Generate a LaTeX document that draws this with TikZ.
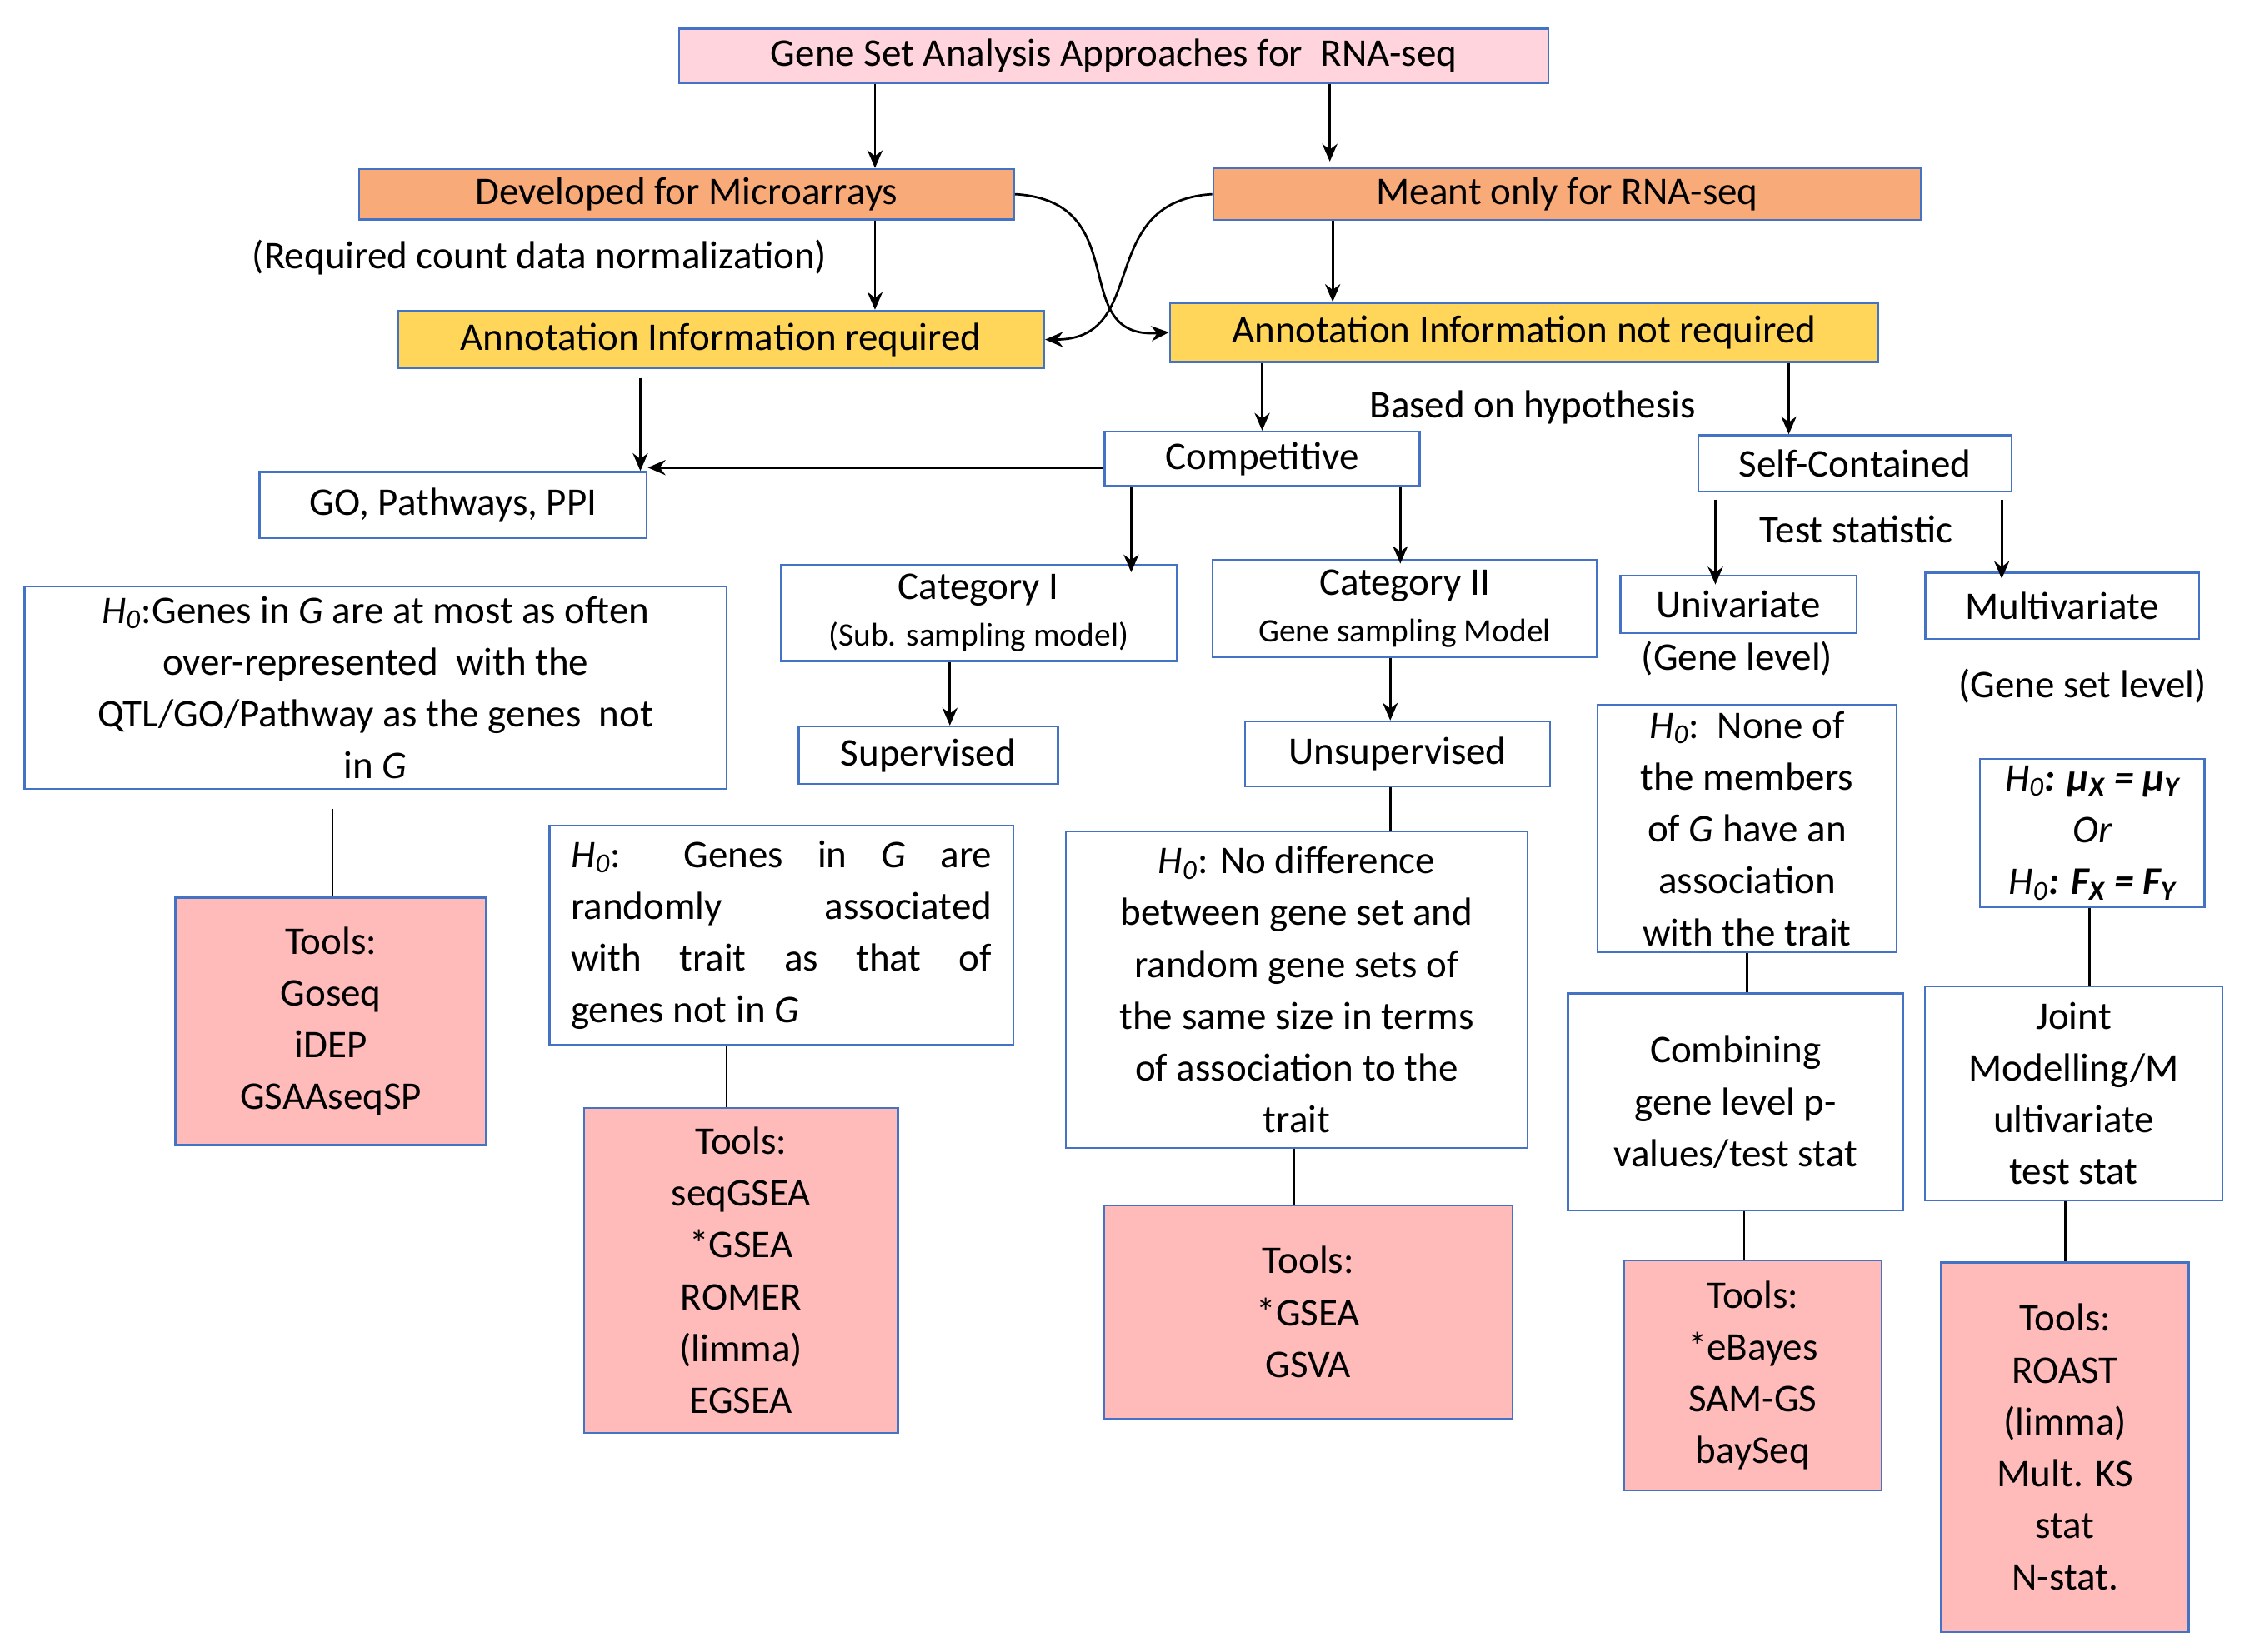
\documentclass[tikz,border=0pt]{standalone}
\usepackage{fontspec}
\setmainfont{Carlito}
\usetikzlibrary{arrows.meta}
\definecolor{bl}{RGB}{68,114,196}
\definecolor{pk}{RGB}{255,212,220}
\definecolor{og}{RGB}{248,170,120}
\definecolor{yl}{RGB}{255,214,90}
\definecolor{tl}{RGB}{255,186,186}
\newcommand\Hz{\textit{H}\textsubscript{\textit{0}}}
\newcommand\jl[1]{\makebox[5.85cm][s]{#1}}
\begin{document}
\begin{tikzpicture}[x=0.02cm,y=-0.02cm,font=\fontsize{15.5}{20.5}\selectfont,
 bx/.style={draw=bl,line width=0.8pt,inner sep=2pt,align=center,minimum width=#1*0.02cm},
 ar/.style={-{Stealth[length=7pt,width=6pt]},line width=0.9pt},
 ln/.style={line width=0.9pt}]
\useasboundingbox (0,0) rectangle (1560,1148);
\node[bx=604,fill=pk,minimum height=0.76cm] (top) at (774,39) {Gene Set Analysis Approaches for\ \ RNA-seq};
\node[bx=455,fill=og,minimum height=0.7cm] (dev) at (477,135) {Developed for Microarrays};
\node[bx=492,fill=og,minimum height=0.72cm] (meant) at (1089,135) {Meant only for RNA-seq};
\node[bx=449,fill=yl,minimum height=0.8cm] (annreq) at (501,236) {Annotation Information required};
\node[bx=492,fill=yl,minimum height=0.82cm] (annnot) at (1059,231) {Annotation Information not required};
\node (norm) at (375,179) {(Required count data normalization)};
\node (hyp) at (1065,283) {Based on hypothesis};
\node[bx=219,minimum height=0.76cm] (comp) at (877,319) {Competitive};
\node[bx=218,minimum height=0.78cm] (self) at (1289,322) {Self-Contained};
\node[bx=269,minimum height=0.92cm] (go) at (315,351) {GO, Pathways, PPI};
\node (ts) at (1290,368) {Test statistic};
\node[bx=488,minimum height=2.82cm] (h0l) at (261,478) {\Hz:Genes in \textit{G} are at most as often\\over-represented\ \ with the\\QTL/GO/Pathway as the genes\ \ not\\in \textit{G}};
\node[bx=275,minimum height=1.34cm] (cat1) at (680,426) {Category I\\[-2pt]{\fontsize{13}{14}\selectfont (Sub. sampling model)}};
\node[bx=267,minimum height=1.34cm] (cat2) at (976,423) {Category II\\[-2pt]{\fontsize{13}{14}\selectfont Gene sampling Model}};
\node[bx=164,minimum height=0.8cm] (uni) at (1208,420) {Univariate};
\node (gl) at (1207,458) {(Gene level)};
\node[bx=190,minimum height=0.92cm] (mul) at (1433,421) {Multivariate};
\node (gsl) at (1447,477) {(Gene set level)};
\node[bx=180,minimum height=0.8cm] (sup) at (645,525) {Supervised};
\node[bx=212,minimum height=0.9cm] (uns) at (971,524) {Unsupervised};
\node[bx=322,minimum height=3.04cm,align=left] (h0s) at (543,650) {\jl{\Hz: Genes in \textit{G} are}\\\jl{randomly associated}\\\jl{with trait as that of}\\genes not in \textit{G}};
\node[bx=321,minimum height=4.4cm] (h0u) at (901,688) {\Hz: No difference\\between gene set and\\random gene sets of\\the same size in terms\\of association to the\\trait};
\node[bx=208,minimum height=3.44cm] (h0v) at (1214,576) {\Hz:\ \ None of\\the members\\of \textit{G} have an\\association\\with the trait};
\node[bx=156,minimum height=2.06cm] (h0m) at (1454,579) {\Hz\textbf{\textit{: μ\textsubscript{X} = μ\textsubscript{Y}}}\\\textit{Or}\\\Hz\textbf{\textit{: F\textsubscript{X} = F\textsubscript{Y}}}};
\node[bx=216,fill=tl,minimum height=3.44cm] (tl1) at (230,710) {Tools:\\Goseq\\iDEP\\GSAAseqSP};
\node[bx=233,minimum height=3.02cm] (comb) at (1206,766) {Combining\\gene level p-\\values/test stat};
\node[bx=207,minimum height=2.98cm] (joint) at (1441,760) {Joint\\Modelling/M\\ultivariate\\test stat};
\node[bx=218,fill=tl,minimum height=4.52cm] (tl2) at (515,883) {Tools:\\seqGSEA\\*GSEA\\ROMER\\(limma)\\EGSEA};
\node[bx=284,fill=tl,minimum height=2.96cm] (tl3) at (909,912) {Tools:\\*GSEA\\GSVA};
\node[bx=179,fill=tl,minimum height=3.2cm] (tl4) at (1218,956) {Tools:\\*eBayes\\SAM-GS\\baySeq};
\node[bx=172,fill=tl,minimum height=5.14cm] (tl5) at (1435,1006) {Tools:\\ROAST\\(limma)\\Mult. KS\\stat\\N-stat.};
% connectors
\foreach \n/\x in {a/608,b/924,c/926,d/877,e/1243,f/445,g/786,h/973,i/1192,j/1391,k/660,l/966,m/231,n/505,o/899,p/1214,q/1212,r/1452,s/1435}
  \coordinate (x\n) at (\x,0);
\coordinate (y325) at (0,325);
\draw[ar] (top.south -| xa) -- (dev.north -| xa);
\draw[ar] (top.south -| xb) -- ([yshift=0.08cm]meant.north -| xb);
\draw[ar] (dev.south -| xa) -- (annreq.north -| xa);
\draw[ar] (meant.south -| xc) -- (annnot.north -| xc);
\draw[ar] (dev.east) .. controls (790,140) and (740,236) .. (annnot.west);
\draw[ar] (meant.west) .. controls (760,140) and (800,236) .. (annreq.east);
\draw[ar] (annnot.south -| xd) -- (comp.north -| xd);
\draw[ar] (annnot.south -| xe) -- (self.north -| xe);
\draw[ar] ([yshift=-0.12cm]annreq.south -| xf) -- (go.north -| xf);
\draw[ar] (comp.west |- y325) -- (go.east |- y325);
\draw[ar] (comp.south -| xg) -- ([yshift=-0.12cm]cat1.north -| xg);
\draw[ar] (comp.south -| xh) -- ([yshift=-0.06cm]cat2.north -| xh);
\draw[ar] ([yshift=-0.1cm]self.south -| xi) -- ([yshift=-0.14cm]uni.north -| xi);
\draw[ar] ([yshift=-0.1cm]self.south -| xj) -- ([yshift=-0.1cm]mul.north -| xj);
\draw[ar] (cat1.south -| xk) -- (sup.north -| xk);
\draw[ar] (cat2.south -| xl) -- (uns.north -| xl);
\draw[ln] ([yshift=-0.26cm]h0l.south -| xm) -- (tl1.north -| xm);
\draw[ln] (uns.south -| xl) -- (h0u.north -| xl);
\draw[ln] (h0s.south -| xn) -- (tl2.north -| xn);
\draw[ln] (h0u.south -| xo) -- (tl3.north -| xo);
\draw[ln] (h0v.south -| xp) -- (comb.north -| xp);
\draw[ln] (comb.south -| xq) -- (tl4.north -| xq);
\draw[ln] (h0m.south -| xr) -- (joint.north -| xr);
\draw[ln] (joint.south -| xs) -- (tl5.north -| xs);
\end{tikzpicture}
\end{document}
